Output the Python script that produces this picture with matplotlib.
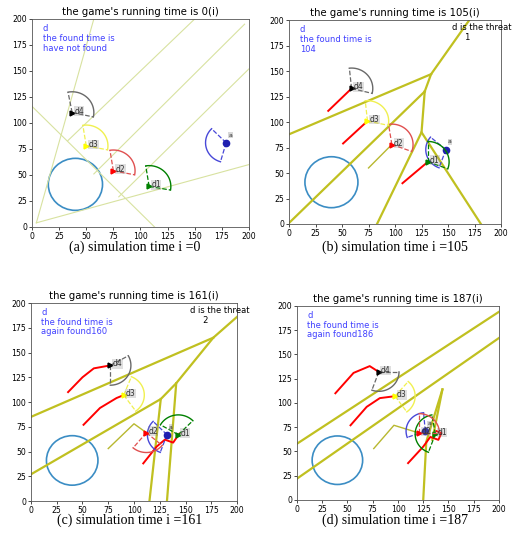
import matplotlib
matplotlib.use('Agg')
import matplotlib.pyplot as plt
import numpy as np

# common scene
circle_center = (40, 41)
circle_radius = 25
agent_names = ["d1", "d2", "d3", "d4"]
agent_colors = ["green", "red", "yellow", "black"]
arc_colors = ["green", "#e05050", "#f0f050", "dimgray"]
traj_colors = ["red", "#b8b830", "red", "red"]
tick_values = [0, 25, 50, 75, 100, 125, 150, 175, 200]

titles = ["the game's running time is 0(i)", "the game's running time is 105(i)",
          "the game's running time is 161(i)", "the game's running time is 187(i)"]
found_texts = ["have not found", "104", "again found160", "again found186"]
threat_texts = [None, "1", "2", None]
captions = ["(a) simulation time i =0", "(b) simulation time i =105",
            "(c) simulation time i =161", "(d) simulation time i =187"]

# panel (a)
a_agent_x = [108, 75, 50, 37]
a_agent_y = [39, 54, 78, 110]
a_sectors = [(-10, 99), (-11, 99), (-11, 99), (-12, 101)]
a_attacker = (179, 81)
a_attacker_sector = (135, 254)
a_traj = [[], [], [], []]
a_walls = [
    [(4, 4), (57, 200)],
    [(4, 4), (200, 60)],
    [(0, 116), (113, 0)],
    [(33, 83), (150, 200)],
    [(57, 51), (196, 195)],
    [(80, 29), (200, 152)],
]

# panel (b)
b_agent_x = [131, 97, 74, 59]
b_agent_y = [61, 78, 101, 133]
b_sectors = [(-20, 90), (-20, 99), (-12, 96), (-14, 96)]
b_attacker = (148, 73)
b_attacker_sector = (140, 250)
b_traj = [
    [(107, 40), (131, 61)],
    [(75, 55), (97, 78)],
    [(51, 79), (74, 101)],
    [(37, 111), (59, 133)],
]
b_walls = [
    [(0, 88), (134, 147)],
    [(0, 1), (128, 130)],
    [(128, 130), (134, 147), (170, 200)],
    [(128, 130), (125, 90), (83, 0)],
    [(125, 90), (181, 0)],
]

# panel (c)
c_agent_x = [143, 112, 90, 77]
c_agent_y = [67, 69, 107, 137]
c_sectors = [(45, 150), (230, 320), (-54, 68), (-90, 29)]
c_attacker = (132, 67)
c_attacker_sector = (135, 250)
c_traj = [
    [(109, 38), (122, 55), (130, 62), (138, 59), (144, 68)],
    [(75, 53), (100, 78), (112, 69)],
    [(51, 77), (67, 94), (83, 104), (90, 107)],
    [(36, 110), (50, 125), (61, 134), (77, 137)],
]
c_walls = [
    [(0, 85), (177, 165)],
    [(0, 27), (126, 103), (141, 119), (177, 165), (200, 186)],
    [(126, 103), (115, 0)],
    [(141, 119), (132, 0)],
]

# panel (d)
d_agent_x = [137, 121, 97, 81]
d_agent_y = [68, 69, 107, 132]
d_sectors = [(100, 250), (0, 90), (-54, 49), (-110, 0)]
d_attacker = (127, 71)
d_attacker_sector = (95, 200)
d_traj = [
    [(110, 38), (125, 55), (132, 65), (140, 62), (143, 69), (138, 71)],
    [(76, 53), (96, 77), (121, 69)],
    [(53, 77), (69, 96), (82, 105), (97, 107)],
    [(38, 110), (56, 131), (72, 138), (81, 132)],
]
d_walls = [
    [(0, 58), (200, 194)],
    [(0, 22), (200, 167)],
    [(144, 114), (128, 60), (125, 0)],
    [(144, 114), (134, 62)],
]

panels = [
    (a_agent_x, a_agent_y, a_sectors, a_attacker, a_attacker_sector, a_traj, a_walls),
    (b_agent_x, b_agent_y, b_sectors, b_attacker, b_attacker_sector, b_traj, b_walls),
    (c_agent_x, c_agent_y, c_sectors, c_attacker, c_attacker_sector, c_traj, c_walls),
    (d_agent_x, d_agent_y, d_sectors, d_attacker, d_attacker_sector, d_traj, d_walls),
]

# axes boxes [left, bottom, width, height] in figure fraction
boxes = [
    [0.0623, 0.5835, 0.4220, 0.3817],
    [0.5623, 0.5890, 0.4125, 0.3740],
    [0.0603, 0.0807, 0.4008, 0.3633],
    [0.5778, 0.0826, 0.3930, 0.3560],
]
caption_pos = [(0.262, 0.547), (0.768, 0.547), (0.253, 0.045), (0.768, 0.045)]


def draw_sector(ax, cx, cy, start, end, color, r=20):
    t = np.radians(np.linspace(start, end, 40))
    ax.plot(cx + r * np.cos(t), cy + r * np.sin(t), color=color, lw=1.0)
    for ang in (start, end):
        ax.plot([cx, cx + r * np.cos(np.radians(ang))], [cy, cy + r * np.sin(np.radians(ang))],
                color=color, lw=0.9, ls='--')


fig = plt.figure(figsize=(5.14, 5.45), dpi=100)

for k, (ax_x, ax_y, sectors, att, att_sec, traj, walls) in enumerate(panels):
    ax = fig.add_axes(boxes[k])
    ax.set_xlim(0, 200)
    ax.set_ylim(0, 200)
    ax.set_xticks(tick_values)
    ax.set_yticks(tick_values)
    ax.tick_params(labelsize=5.6, length=2, width=0.5, pad=1.5)
    for sp in ax.spines.values():
        sp.set_linewidth(0.6)
        sp.set_color('#555555')

    # walls
    for w in walls:
        xs = [p[0] for p in w]
        ys = [p[1] for p in w]
        if k == 0:
            ax.plot(xs, ys, color='#d8e2a0', lw=0.8)
        else:
            ax.plot(xs, ys, color='#c0c020', lw=1.6)

    # protected area
    ax.add_patch(plt.Circle(circle_center, circle_radius, fill=False,
                            edgecolor='#3b8dc4', lw=1.2))

    # trajectories
    for i, tr in enumerate(traj):
        if tr:
            ax.plot([p[0] for p in tr], [p[1] for p in tr], color=traj_colors[i],
                    lw=1.4 if i != 1 else 1.0)

    # attacker
    draw_sector(ax, att[0], att[1], att_sec[0], att_sec[1], '#4848d8', r=19)
    ax.plot(att[0], att[1], 'o', color='#2020b0', ms=4.5)
    ax.text(att[0] + 2, att[1] + 6, 'a', fontsize=4.5, color='#333333',
            bbox=dict(facecolor='gray', alpha=0.3, pad=0.3, lw=0))

    # defenders
    for i in range(4):
        draw_sector(ax, ax_x[i], ax_y[i], sectors[i][0], sectors[i][1], arc_colors[i])
        ax.plot(ax_x[i], ax_y[i], '>', color=agent_colors[i], ms=3.5)
        ax.text(ax_x[i] + 2, ax_y[i] - 1, agent_names[i], fontsize=5.5, color='#333333',
                bbox=dict(facecolor='gray', alpha=0.25, pad=0.3, lw=0))

    ax.text(10, 195, "d\nthe found time is\n" + found_texts[k], fontsize=6,
            color='blue', alpha=0.75, va='top', linespacing=1.1)
    if threat_texts[k] is not None:
        ax.text(154, 197, "d is the threat\n     " + threat_texts[k], fontsize=6,
                ha='left', va='top', linespacing=1.1, clip_on=False)
    ax.set_title(titles[k], fontsize=7.3, pad=3)

    fig.text(caption_pos[k][0], caption_pos[k][1], captions[k], fontsize=10,
             family='Liberation Serif', ha='center', va='center')

plt.savefig('out.png', dpi=100)
plt.close()
